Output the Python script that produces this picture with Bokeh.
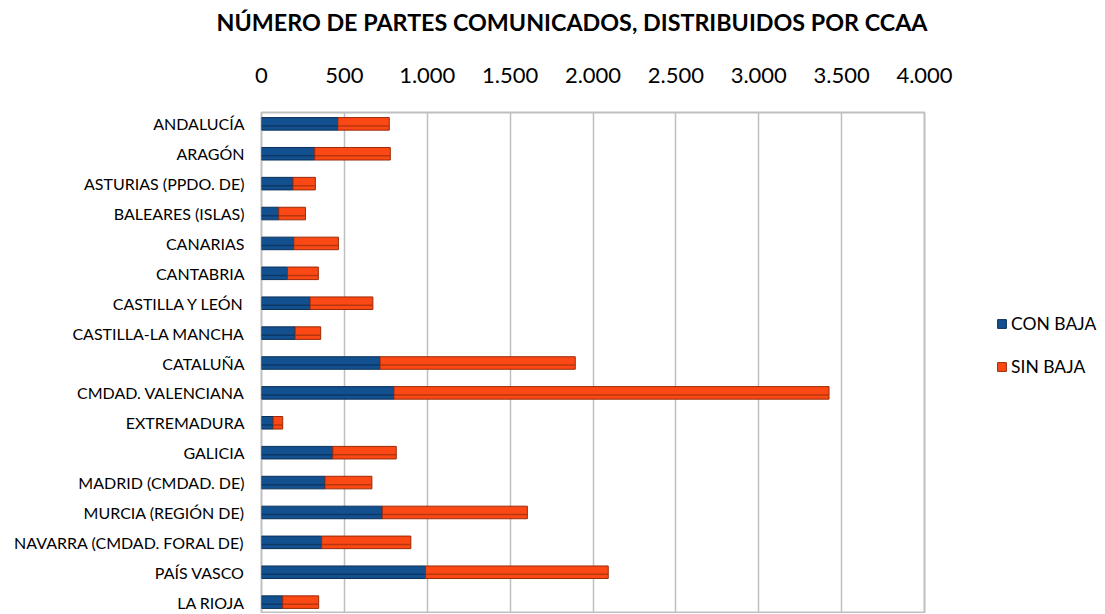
from bokeh.plotting import figure
from bokeh.models import FactorRange, Range1d, FixedTicker, CustomJSTickFormatter, Legend, LegendItem, ColumnDataSource
from bokeh.transform import dodge
from bokeh.embed import file_html
from bokeh.resources import INLINE

regiones = ["ANDALUCÍA", "ARAGÓN", "ASTURIAS (PPDO. DE)", "BALEARES (ISLAS)", "CANARIAS",
            "CANTABRIA", "CASTILLA Y LEÓN", "CASTILLA-LA MANCHA", "CATALUÑA",
            "CMDAD. VALENCIANA", "EXTREMADURA", "GALICIA", "MADRID (CMDAD. DE)",
            "MURCIA (REGIÓN DE)", "NAVARRA (CMDAD. FORAL DE)", "PAÍS VASCO", "LA RIOJA"]
con_baja = [461, 321, 190, 104, 195, 157, 293, 203, 715, 799, 70, 430, 383, 729, 363, 990, 128]
sin_baja = [310, 456, 135, 161, 269, 186, 379, 154, 1178, 2625, 58, 383, 283, 875, 538, 1102, 217]
x_ticks = [0, 500, 1000, 1500, 2000, 2500, 3000, 3500, 4000]
series = ["CON BAJA", "SIN BAJA"]
colores = ["#13508f", "#fc4814"]
bordes = ["#0b2f57", "#9a2a08"]
sombras = ["#0c3868", "#b8360c"]

FONT = "Lato"

src = ColumnDataSource(dict(region=regiones, con=con_baja, sin=sin_baja))

p = figure(
    y_range=FactorRange(*list(reversed(regiones)), range_padding=-0.12, range_padding_units="absolute"),
    x_range=Range1d(0, 4000),
    frame_width=663, frame_height=501,
    output_backend="svg", toolbar_location=None,
    x_axis_location="above",
    min_border_left=261, min_border_top=0, min_border_bottom=0, min_border_right=0,
)

r = p.hbar_stack(["con", "sin"], y="region", height=0.42, source=src,
                 color=colores, line_color=bordes, line_width=1)
# bevel shading stripe
p.hbar_stack(["con", "sin"], y=dodge("region", -0.07, range=p.y_range), height=0.05,
             source=src, color=sombras, line_color=None)

# title
p.title.text = "NÚMERO DE PARTES COMUNICADOS, DISTRIBUIDOS POR CCAA"
p.title.align = "left"
p.title.offset = -45
p.title.standoff = 10
p.title.text_font = FONT
p.title.text_font_style = "bold"
p.title.text_font_size = "23.3px"
p.title.text_color = "#000000"

# x axis
xa = p.xaxis[0]
xa.ticker = FixedTicker(ticks=x_ticks)
xa.formatter = CustomJSTickFormatter(code="return tick.toString().replace(/\\B(?=(\\d{3})+(?!\\d))/g, '.');")
xa.major_label_text_font = FONT
xa.major_label_text_font_size = "22px"
xa.major_label_text_color = "#000000"
xa.major_tick_line_color = None
xa.minor_tick_line_color = None
xa.axis_line_color = None
xa.major_label_standoff = 24
xa.axis_label = " "
xa.axis_label_text_font_size = "10px"
xa.axis_label_standoff = 10

ya = p.yaxis[0]
ya.major_label_text_font = FONT
ya.major_label_text_font_size = "16px"
ya.major_label_text_color = "#000000"
ya.major_tick_line_color = None
ya.axis_line_color = None
ya.major_label_standoff = 11

p.xgrid.ticker = FixedTicker(ticks=x_ticks)
p.xgrid.grid_line_color = "#bfbfbf"
p.xgrid.grid_line_width = 1.5
p.ygrid.grid_line_color = None
p.outline_line_color = "#bfbfbf"
p.outline_line_width = 2

legend = Legend(items=[LegendItem(label=series[0], renderers=[r[0]]),
                       LegendItem(label=series[1], renderers=[r[1]])],
                location=(72, 236), orientation="vertical",
                label_text_font=FONT, label_text_font_size="17.5px",
                label_text_color="#000000", glyph_width=11, glyph_height=11,
                label_standoff=4, spacing=22, padding=0, margin=0,
                border_line_color=None, background_fill_alpha=0)
p.add_layout(legend, "right")
p.min_border_right = 172

p.background_fill_color = "white"
p.border_fill_color = "white"

open("out.html", "w").write(file_html(p, INLINE))
